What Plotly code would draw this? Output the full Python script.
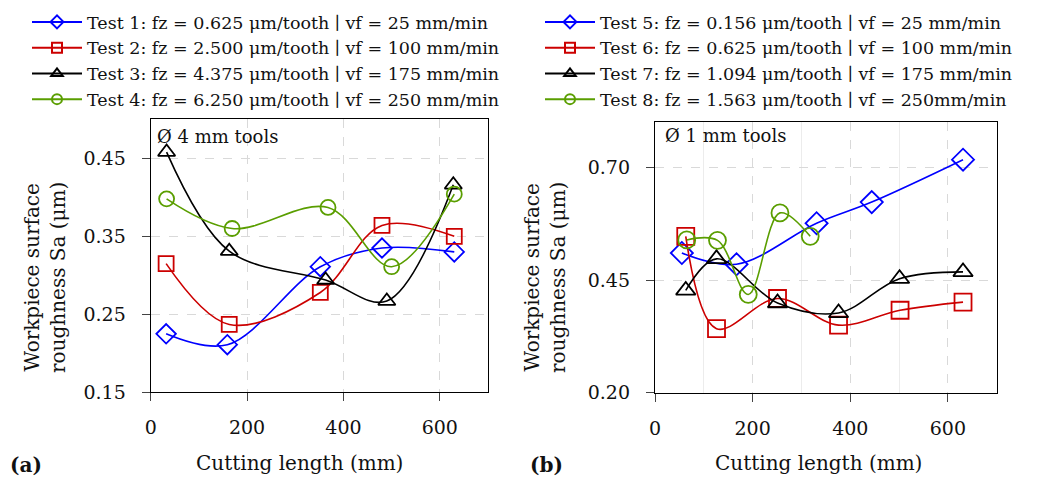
import plotly.graph_objects as go

# ---- data: (a) Ø 4 mm tools ----
a_names = ["Test 1: fz = 0.625 μm/tooth ∣ vf = 25 mm/min",
           "Test 2: fz = 2.500 μm/tooth ∣ vf = 100 mm/min",
           "Test 3: fz = 4.375 μm/tooth ∣ vf = 175 mm/min",
           "Test 4: fz = 6.250 μm/tooth ∣ vf = 250 mm/min"]
a1_x = [32, 159, 352, 480, 630]
a1_y = [0.225, 0.211, 0.311, 0.335, 0.330]
a2_x = [32, 163, 352, 480, 630]
a2_y = [0.315, 0.237, 0.278, 0.364, 0.350]
a3_x = [33, 163, 363, 490, 628]
a3_y = [0.458, 0.331, 0.294, 0.267, 0.416]
a4_x = [33, 169, 368, 500, 630]
a4_y = [0.398, 0.360, 0.387, 0.311, 0.404]

# ---- data: (b) Ø 1 mm tools ----
b_names = ["Test 5: fz = 0.156 μm/tooth ∣ vf = 25 mm/min",
           "Test 6: fz = 0.625 μm/tooth ∣ vf = 100 mm/min",
           "Test 7: fz = 1.094 μm/tooth ∣ vf = 175 mm/min",
           "Test 8: fz = 1.563 μm/tooth ∣ vf = 250mm/min"]
b5_x = [55, 167, 331, 444, 631]
b5_y = [0.510, 0.485, 0.576, 0.623, 0.717]
b6_x = [63, 126, 251, 376, 502, 631]
b6_y = [0.547, 0.342, 0.409, 0.350, 0.383, 0.401]
b7_x = [63, 126, 251, 376, 501, 631]
b7_y = [0.427, 0.497, 0.399, 0.377, 0.453, 0.468]
b8_x = [65, 128, 191, 256, 318]
b8_y = [0.539, 0.538, 0.418, 0.599, 0.547]

colors = ["#0000FF", "#CC0000", "#000000", "#5A9E00"]
symbols = ["diamond-open", "square-open", "triangle-up-open", "circle-open"]

FONT = "DejaVu Serif"
fig = go.Figure()

a_series = [(a1_x, a1_y), (a2_x, a2_y), (a3_x, a3_y), (a4_x, a4_y)]
b_series = [(b5_x, b5_y), (b6_x, b6_y), (b7_x, b7_y), (b8_x, b8_y)]

for i, (xs, ys) in enumerate(a_series):
    fig.add_trace(go.Scatter(x=xs, y=ys, mode="lines+markers", xaxis="x", yaxis="y",
                             line=dict(color=colors[i], width=1.6, shape="spline", smoothing=1),
                             marker=dict(symbol=symbols[i], size=15, color=colors[i],
                                         line=dict(width=1.8, color=colors[i])),
                             showlegend=False))
    fig.add_trace(go.Scatter(x=[None], y=[None], mode="lines+markers", xaxis="x", yaxis="y",
                             name=a_names[i], legend="legend",
                             line=dict(color=colors[i], width=2),
                             marker=dict(symbol=symbols[i], size=10, color=colors[i],
                                         line=dict(width=2, color=colors[i]))))

for i, (xs, ys) in enumerate(b_series):
    fig.add_trace(go.Scatter(x=xs, y=ys, mode="lines+markers", xaxis="x2", yaxis="y2",
                             line=dict(color=colors[i], width=1.6, shape="spline", smoothing=1),
                             marker=dict(symbol=symbols[i], size=17, color=colors[i],
                                         line=dict(width=1.8, color=colors[i])),
                             showlegend=False))
    fig.add_trace(go.Scatter(x=[None], y=[None], mode="lines+markers", xaxis="x2", yaxis="y2",
                             name=b_names[i], legend="legend2",
                             line=dict(color=colors[i], width=2),
                             marker=dict(symbol=symbols[i], size=10, color=colors[i],
                                         line=dict(width=2, color=colors[i]))))

W, H = 1043, 479
def px_x(p): return p / W
def px_y(p): return 1 - p / H

axis_common = dict(showline=True, linecolor="black", linewidth=1.3, mirror=True,
                   ticks="outside", ticklen=8, tickcolor="#444", tickwidth=1.3,
                   zeroline=False, gridcolor="#d9d9d9", griddash="dash", gridwidth=1,
                   automargin=False,
                   tickfont=dict(family=FONT, size=19, color="#111"))

LEGFONT = dict(family=FONT, size=17.5, color="#111")
fig.update_layout(
    width=W, height=H, margin=dict(l=0, r=0, t=0, b=0, autoexpand=False),
    paper_bgcolor="white", plot_bgcolor="white",
    font=dict(family=FONT, size=18, color="#111"),
    xaxis=dict(domain=[px_x(150.7), px_x(488)], range=[0, 700], tickvals=[0, 200, 400, 600],
               ticklabelstandoff=10, anchor="y", **axis_common),
    yaxis=dict(domain=[px_y(392.3), px_y(119.3)], range=[0.15, 0.50],
               tickvals=[0.15, 0.25, 0.35, 0.45], ticktext=["0.15", "0.25", "0.35", "0.45"],
               ticklabelstandoff=12, anchor="x", **axis_common),
    xaxis2=dict(domain=[px_x(655), px_x(996.7)], range=[0, 700], tickvals=[0, 200, 400, 600],
                minor=dict(tickvals=[100, 300, 500], showgrid=True, gridcolor="#ececec",
                           griddash="solid", ticks=""),
                ticklabelstandoff=10, anchor="y2", **axis_common),
    yaxis2=dict(domain=[px_y(392.7), px_y(122.3)], range=[0.20, 0.80],
                tickvals=[0.20, 0.45, 0.70], ticktext=["0.20", "0.45", "0.70"],
                ticklabelstandoff=12, anchor="x2", **axis_common),
    legend=dict(x=px_x(27), y=px_y(4), xanchor="left", yanchor="top",
                font=LEGFONT, bgcolor="rgba(0,0,0,0)",
                tracegroupgap=0, itemwidth=50),
    legend2=dict(x=px_x(540), y=px_y(4), xanchor="left", yanchor="top",
                 font=LEGFONT, bgcolor="rgba(0,0,0,0)",
                 tracegroupgap=0, itemwidth=50),
)

ann = []
ann.append(dict(text="Ø 4 mm tools", x=px_x(155), y=px_y(137), xref="paper", yref="paper",
                xanchor="left", yanchor="middle", showarrow=False, font=dict(size=18)))
ann.append(dict(text="Ø 1 mm tools", x=px_x(663), y=px_y(136), xref="paper", yref="paper",
                xanchor="left", yanchor="middle", showarrow=False, font=dict(size=18)))
for cx in (299, 818):
    ann.append(dict(text="Cutting length (mm)", x=px_x(cx), y=px_y(463), xref="paper", yref="paper",
                    xanchor="center", yanchor="middle", showarrow=False, font=dict(size=20)))
for cx in (45, 545):
    ann.append(dict(text="Workpiece surface<br>roughness Sa (μm)", x=px_x(cx), y=px_y(278),
                    xref="paper", yref="paper", xanchor="center", yanchor="middle",
                    textangle=-90, showarrow=False, font=dict(size=20)))
ann.append(dict(text="<b>(a)</b>", x=px_x(8), y=px_y(465), xref="paper", yref="paper",
                xanchor="left", yanchor="middle", showarrow=False, font=dict(size=20)))
ann.append(dict(text="<b>(b)</b>", x=px_x(528), y=px_y(465), xref="paper", yref="paper",
                xanchor="left", yanchor="middle", showarrow=False, font=dict(size=20)))
fig.update_layout(annotations=ann)

fig.write_html("out.html", config={"displayModeBar": False},
               post_script="document.body.style.margin='0';")
